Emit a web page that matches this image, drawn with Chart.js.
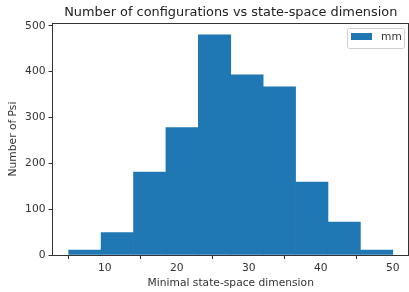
<!DOCTYPE html>
<html>
<head>
<meta charset="utf-8">
<script src="https://cdn.jsdelivr.net/npm/chart.js@4/dist/chart.umd.min.js"></script>
<style>
html,body{margin:0;padding:0;background:#fff;}
#wrap{width:409px;height:292px;position:relative;overflow:hidden;}
</style>
</head>
<body>
<div id="wrap"><canvas id="c" width="409" height="292"></canvas></div>
<script>
const binEdges = [5, 9.5, 14, 18.5, 23, 27.5, 32, 36.5, 41, 45.5, 50];
const counts = [11, 49, 181, 278, 480, 393, 367, 159, 72, 11];
const xTicks = [10, 20, 30, 40, 50];
const yTicks = [0, 100, 200, 300, 400, 500];
const seriesLabel = 'mm';
const titleText = 'Number of configurations vs state-space dimension';
const xTitle = 'Minimal state-space dimension';
const yTitle = 'Number of Psi';

const barColor = '#1f77b4';
const FONT = "'DejaVu Sans', sans-serif";
const TICK_SIZE = 10.7;

const data = counts.map((v, i) => ({ x: (binEdges[i] + binEdges[i + 1]) / 2, y: v }));

const framePlugin = {
  id: 'frame',
  afterDatasetsDraw(chart) {
    const { ctx, chartArea: a } = chart;
    ctx.save();
    ctx.strokeStyle = '#333';
    ctx.lineWidth = 1;
    ctx.beginPath();
    ctx.moveTo(a.left, Math.round(a.top) + 0.5);
    ctx.lineTo(a.right, Math.round(a.top) + 0.5);
    ctx.moveTo(Math.round(a.right) - 0.5, a.top);
    ctx.lineTo(Math.round(a.right) - 0.5, a.bottom);
    ctx.stroke();
    ctx.restore();
  }
};

const titlePlugin = {
  id: 'axTitle',
  afterDraw(chart) {
    const { ctx, chartArea: a } = chart;
    ctx.save();
    ctx.font = '12.9px ' + FONT;
    ctx.fillStyle = '#222';
    ctx.textAlign = 'center';
    ctx.textBaseline = 'middle';
    ctx.fillText(titleText, (a.left + a.right) / 2, 12.5);
    ctx.restore();
  }
};

const legendPlugin = {
  id: 'innerLegend',
  afterDraw(chart) {
    const { ctx, chartArea: a } = chart;
    const ds = chart.data.datasets[0];
    ctx.save();
    ctx.font = TICK_SIZE + 'px ' + FONT;
    const w = 57;
    const h = 20;
    const x = 347;
    const y = a.top + 5;
    ctx.fillStyle = 'rgba(255,255,255,0.8)';
    ctx.strokeStyle = '#d0d0d0';
    ctx.lineWidth = 1;
    ctx.beginPath();
    if (ctx.roundRect) ctx.roundRect(x + 0.5, y + 0.5, w, h, 2); else ctx.rect(x + 0.5, y + 0.5, w, h);
    ctx.fill();
    ctx.stroke();
    ctx.fillStyle = ds.backgroundColor;
    ctx.fillRect(x + 4, y + 5, 21, 7);
    ctx.fillStyle = '#333';
    ctx.textBaseline = 'middle';
    ctx.textAlign = 'left';
    ctx.fillText(ds.label, x + 34, y + 9.5);
    ctx.restore();
  }
};

new Chart(document.getElementById('c'), {
  type: 'bar',
  data: {
    datasets: [{
      label: seriesLabel,
      data: data,
      backgroundColor: barColor,
      borderWidth: 0,
      barPercentage: 1.0,
      categoryPercentage: 1.0,
      grouped: false
    }]
  },
  options: {
    responsive: false,
    animation: false,
    devicePixelRatio: 1,
    layout: { padding: { left: 0, right: -1.2, top: 23, bottom: 0 } },
    plugins: {
      legend: { display: false },
      tooltip: { enabled: false },
      title: { display: false }
    },
    scales: {
      x: {
        type: 'linear',
        min: 2.75,
        max: 52.25,
        offset: false,
        afterBuildTicks(scale) { scale.ticks = xTicks.map(v => ({ value: v })); },
        afterFit(scale) { scale.height = 37; },
        ticks: { color: '#333', font: { family: FONT, size: TICK_SIZE }, padding: 3, maxRotation: 0, autoSkip: false },
        grid: { drawOnChartArea: false, drawTicks: true, tickLength: 4, tickColor: '#333' },
        border: { display: true, color: '#333' },
        title: { display: true, text: xTitle, color: '#333', font: { family: FONT, size: TICK_SIZE }, padding: { top: 0, bottom: 2 } }
      },
      y: {
        min: 0,
        max: 506,
        afterBuildTicks(scale) { scale.ticks = yTicks.map(v => ({ value: v })); },
        afterFit(scale) { scale.width = 52.5; },
        ticks: { color: '#333', font: { family: FONT, size: TICK_SIZE }, padding: 3, autoSkip: false },
        grid: { drawOnChartArea: false, drawTicks: true, tickLength: 4, tickColor: '#333' },
        border: { display: true, color: '#333' },
        title: { display: true, text: yTitle, color: '#333', font: { family: FONT, size: TICK_SIZE }, padding: { top: 7, bottom: 0 } }
      }
    }
  },
  plugins: [framePlugin, titlePlugin, legendPlugin]
});
</script>
</body>
</html>
